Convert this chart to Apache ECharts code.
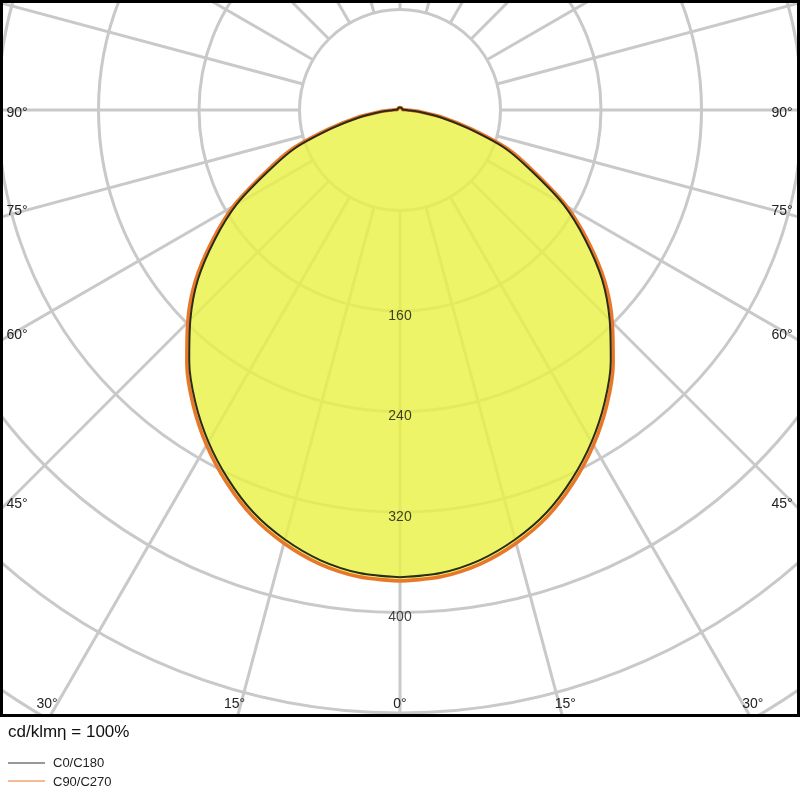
<!DOCTYPE html>
<html><head><meta charset="utf-8">
<script src="https://cdn.jsdelivr.net/npm/echarts@6/dist/echarts.min.js"></script>
<style>html,body{margin:0;padding:0;background:#fff}#c{width:800px;height:800px}</style>
</head><body><div id="c"></div>
<script>
// gamma angles 0..180 step 5
const gammaAngles = [0,5,10,15,20,25,30,35,40,45,50,55,60,65,70,75,80,85,90,95,100,105,110,115,120,125,130,135,140,145,150,155,160,165,170,175,180];
const c0c180 = [372,370,364,354,341,324,305,284,261,236,210,180,150,116,89,56,32,14,5,3,2,2,2,2,2,2,2,2,2,2,2,2,2,2,2,2,2];
const c90c270 = [375,373,367,357,344,327,308,287,264,239,213,183,153,119,92,59,35,16,6,3,2,2,2,2,2,2,2,2,2,2,2,2,2,2,2,2,2];
const ringLabels = [160,240,320,400];
const spokeAngles = [0,15,30,45,60,75,90,105,120,135,150,165,180,195,210,225,240,255,270,285,300,315,330,345];
const sideLabels = [45,60,75,90];
const bottomLabels = [30,15,0,15,30];

function closed(vals){
  const d=[];
  gammaAngles.forEach((a,i)=>d.push([vals[i],a]));
  for(let i=gammaAngles.length-2;i>=0;i--) d.push([vals[i],360-gammaAngles[i]]);
  return d;
}
const CX=400, CY=110;
const grid = {color:'#c9c9c9', width:3};
const series = [];
spokeAngles.forEach(a=>series.push({type:'line',coordinateSystem:'polar',silent:true,symbol:'none',z:1,
  lineStyle:{color:grid.color,width:grid.width},data:[[80,a],[640,a]]}));
series.push({type:'line',coordinateSystem:'polar',silent:true,symbol:'none',z:3,smooth:0.3,
  lineStyle:{width:0},areaStyle:{color:'rgba(234,242,70,0.82)',opacity:1},data:closed(c90c270)});
series.push({type:'line',coordinateSystem:'polar',silent:true,symbol:'none',z:4,smooth:0.3,
  lineStyle:{color:'#e8772a',width:3.5},data:closed(c90c270)});
series.push({type:'line',coordinateSystem:'polar',silent:true,symbol:'none',z:5,smooth:0.3,
  lineStyle:{color:'#2b2b1a',width:2},data:closed(c0c180)});
series.push({type:'scatter',coordinateSystem:'polar',silent:true,symbolSize:0,z:6,
  label:{show:true,position:'inside',offset:[0,5],formatter:p=>String(p.value[0]),color:'#111',fontSize:14,fontFamily:'Liberation Sans, Arial'},
  data:ringLabels.map(r=>[r,0])});

const graphics=[];
const tstyle={fill:'#222',fontSize:14,fontFamily:'Liberation Sans, Arial',align:'center',verticalAlign:'middle'};
sideLabels.forEach(a=>{
  const y = a===90 ? CY+3 : CY + 400/Math.tan(a*Math.PI/180) - 6;
  graphics.push({type:'text',z:60,style:Object.assign({},tstyle,{text:a+'°',x:17,y:y})});
  graphics.push({type:'text',z:60,style:Object.assign({},tstyle,{text:a+'°',x:782,y:y})});
});
bottomLabels.forEach((a,i)=>{
  const s = i<2?-1:1;
  const x = CX + s*606*Math.tan(a*Math.PI/180) + (i<2?-3:3)*(a?1:0);
  graphics.push({type:'text',z:60,style:Object.assign({},tstyle,{text:a+'°',x:x,y:704})});
});
graphics.push({type:'rect',z:50,shape:{x:0,y:716,width:800,height:84},style:{fill:'#fff'}});
graphics.push({type:'rect',z:55,shape:{x:1.5,y:1.5,width:797,height:714},style:{fill:'none',stroke:'#000',lineWidth:3}});
graphics.push({type:'text',z:60,style:{text:'cd/klmη = 100%',x:8,y:732,fill:'#111',fontSize:17,fontFamily:'Liberation Sans, Arial',verticalAlign:'middle'}});
graphics.push({type:'line',z:60,shape:{x1:8,y1:763,x2:45,y2:763},style:{stroke:'#333',lineWidth:1}});
graphics.push({type:'text',z:60,style:{text:'C0/C180',x:53,y:763,fill:'#222',fontSize:13,fontFamily:'Liberation Sans, Arial',verticalAlign:'middle'}});
graphics.push({type:'line',z:60,shape:{x1:8,y1:781,x2:45,y2:781},style:{stroke:'#e8772a',lineWidth:1}});
graphics.push({type:'text',z:60,style:{text:'C90/C270',x:53,y:782,fill:'#222',fontSize:13,fontFamily:'Liberation Sans, Arial',verticalAlign:'middle'}});

const chart = echarts.init(document.getElementById('c'));
chart.setOption({
  animation:false,
  polar:{center:[CX,CY],radius:804},
  angleAxis:{type:'value',min:0,max:360,startAngle:270,clockwise:true,axisLine:{show:false},axisTick:{show:false},axisLabel:{show:false},splitLine:{show:false}},
  radiusAxis:{type:'value',min:0,max:640,interval:80,axisLine:{show:false},axisTick:{show:false},axisLabel:{show:false},splitLine:{show:true,lineStyle:{color:grid.color,width:grid.width}}},
  series:series,
  graphic:graphics
});
</script></body></html>
